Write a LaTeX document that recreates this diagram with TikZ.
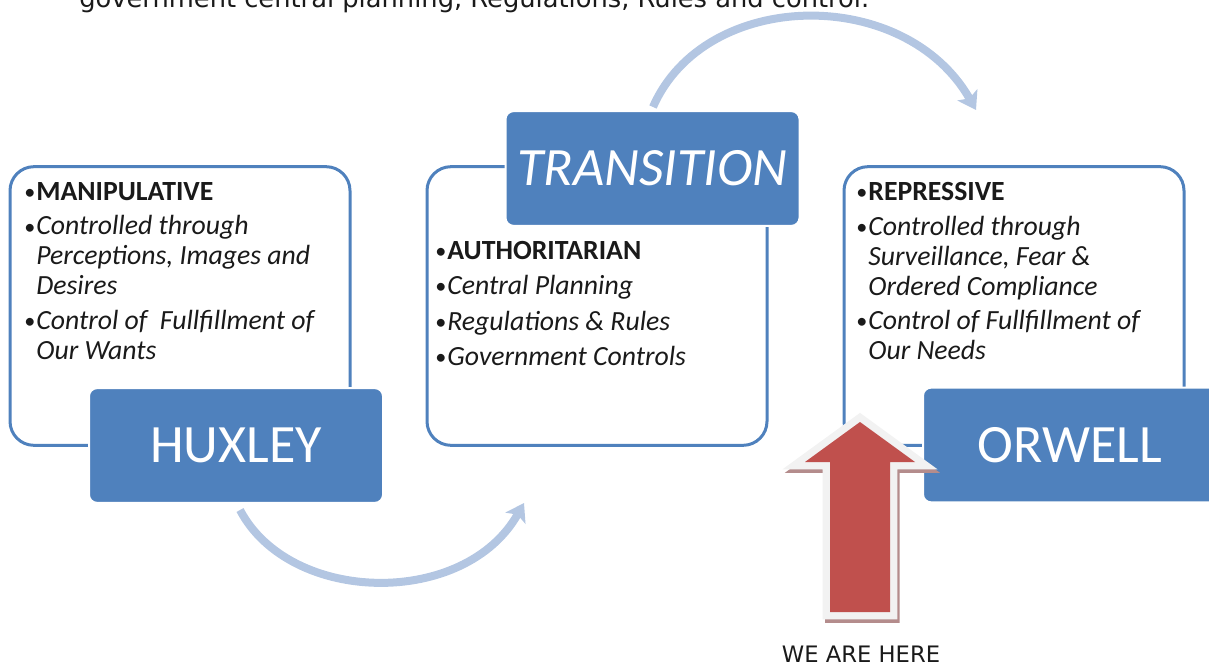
\documentclass[tikz,border=0pt]{standalone}
\usepackage{fontspec}
\setmainfont{Carlito}
\newfontfamily\dvs{DejaVu Sans}
\usetikzlibrary{arrows.meta}
\definecolor{ofblue}{HTML}{4F81BD}
\definecolor{arrowblue}{HTML}{B3C6E2}
\definecolor{ofred}{HTML}{C0504D}
\definecolor{rimgray}{HTML}{F2F2F2}
\definecolor{shadowred}{HTML}{B48C8C}
\definecolor{bodytext}{HTML}{1A1A1A}
\newcommand\bul{{\normalfont\upshape\raisebox{0.6pt}{\scalebox{0.8}{•}}\kern0.8pt}}
\newcommand\nobul{\hphantom{\bul}}
\begin{document}
\begin{tikzpicture}[x=0.75pt,y=-0.75pt,
  panel/.style={draw=ofblue, line width=2.25pt, fill=white, rounded corners=18pt,
    inner sep=0pt, minimum width=255pt, minimum height=209pt},
  tag/.style={fill=ofblue, draw=white, line width=1.5pt, rounded corners=6pt,
    inner sep=0pt, minimum width=220.5pt, minimum height=86pt, text=white,
    font=\fontsize{40.5}{44}\selectfont},
  body/.style={inner sep=0pt, anchor=north west, align=left, text=bodytext,
    font=\fontsize{20.8}{22.5}\selectfont},
  flow/.style={draw=arrowblue, line width=6pt,
    -{Stealth[length=13pt,width=17pt,inset=3pt]}},
  rim/.style={draw=rimgray, fill=rimgray, line width=11pt, line join=miter},
]
\useasboundingbox (0,0) rectangle (1209,667);
\clip (0,0) rectangle (1209,667);

% cut-off text at the top (as in the reference)
\node[anchor=base west, inner sep=0pt, font=\dvs\fontsize{19.3}{22}\selectfont, text=bodytext]
  (top) at (79,8) {government central planning, Regulations, Rules and control.};

% curved connectors
\coordinate (b1) at (240,510);
\coordinate (b2) at (524,503);
\coordinate (t1) at (653,107);
\coordinate (t2) at (976,110);
\draw[flow] (b1) .. controls (290,605) and (465,608) .. (b2);
\draw[flow] (t1) .. controls (705,-12) and (905,-15) .. (t2);

% panels
\node[panel] (hxp) at (180,306) {};
\node[panel] (trp) at (597,306) {};
\node[panel] (orp) at (1014,306) {};

% panel texts
\node[body] (hxt) at (24,182) {\bul\textbf{MANIPULATIVE}\\[3.5pt]
  \bul\textit{Controlled through}\\
  \nobul\textit{Perceptions, Images and}\\
  \nobul\textit{Desires}\\[3.5pt]
  \bul\textit{Control of\ \ Fullfillment of}\\
  \nobul\textit{Our Wants}};
\node[body] (trt) at (435,241) {\bul\textbf{AUTHORITARIAN}\\[4pt]
  \bul\textit{Central Planning}\\[4pt]
  \bul\textit{Regulations \& Rules}\\[4pt]
  \bul\textit{Government Controls}};
\node[body] (ort) at (856,182) {\bul\textbf{REPRESSIVE}\\[3.5pt]
  \bul\textit{Controlled through}\\
  \nobul\textit{Surveillance, Fear \&}\\
  \nobul\textit{Ordered Compliance}\\[3.5pt]
  \bul\textit{Control of Fullfillment of}\\
  \nobul\textit{Our Needs}};

% tags
\node[tag] (hx) at (236,445.5) {HUXLEY};
\node[tag] (tr) at (652.5,168.5) {\itshape TRANSITION};
\node[tag] (or) at (1070,445) {ORWELL};

% red arrow with rim and shadow
\path[rim, draw=shadowred, fill=shadowred, shift={(1.8pt,-2.6pt)}]
  (860,422) -- (915,462) -- (890,462) -- (890,612) -- (830,612) -- (830,462) -- (805,462) -- cycle;
\path[rim]
  (860,422) -- (915,462) -- (890,462) -- (890,612) -- (830,612) -- (830,462) -- (805,462) -- cycle;
\fill[ofred]
  (860,422) -- (915,462) -- (890,462) -- (890,612) -- (830,612) -- (830,462) -- (805,462) -- cycle;

\node[anchor=base, inner sep=0pt, font=\dvs\fontsize{17}{19}\selectfont, text=bodytext]
  (here) at (861,662) {WE ARE HERE};
\end{tikzpicture}
\end{document}
